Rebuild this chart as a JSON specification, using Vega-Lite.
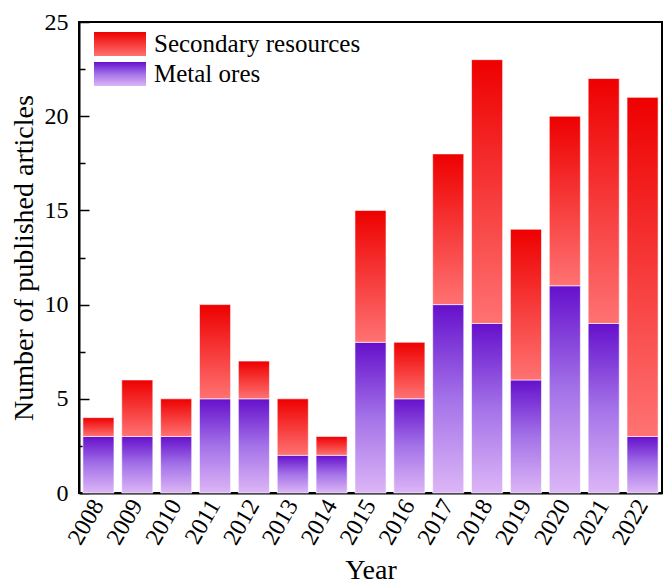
{
  "$schema": "https://vega.github.io/schema/vega-lite/v6.json",
  "width": 583,
  "height": 471,
  "autosize": "none",
  "padding": {"left": 79, "top": 22, "right": 1, "bottom": 92},
  "background": "white",
  "config": {
    "view": {"stroke": "black", "strokeWidth": 2},
    "font": "Liberation Serif",
    "axis": {"labelFont": "Liberation Serif", "titleFont": "Liberation Serif"},
    "legend": {"labelFont": "Liberation Serif"}
  },
  "data": {
    "values": [
      {"year": "2008", "series": "Metal ores", "count": 3},
      {"year": "2008", "series": "Secondary resources", "count": 1},
      {"year": "2009", "series": "Metal ores", "count": 3},
      {"year": "2009", "series": "Secondary resources", "count": 3},
      {"year": "2010", "series": "Metal ores", "count": 3},
      {"year": "2010", "series": "Secondary resources", "count": 2},
      {"year": "2011", "series": "Metal ores", "count": 5},
      {"year": "2011", "series": "Secondary resources", "count": 5},
      {"year": "2012", "series": "Metal ores", "count": 5},
      {"year": "2012", "series": "Secondary resources", "count": 2},
      {"year": "2013", "series": "Metal ores", "count": 2},
      {"year": "2013", "series": "Secondary resources", "count": 3},
      {"year": "2014", "series": "Metal ores", "count": 2},
      {"year": "2014", "series": "Secondary resources", "count": 1},
      {"year": "2015", "series": "Metal ores", "count": 8},
      {"year": "2015", "series": "Secondary resources", "count": 7},
      {"year": "2016", "series": "Metal ores", "count": 5},
      {"year": "2016", "series": "Secondary resources", "count": 3},
      {"year": "2017", "series": "Metal ores", "count": 10},
      {"year": "2017", "series": "Secondary resources", "count": 8},
      {"year": "2018", "series": "Metal ores", "count": 9},
      {"year": "2018", "series": "Secondary resources", "count": 14},
      {"year": "2019", "series": "Metal ores", "count": 6},
      {"year": "2019", "series": "Secondary resources", "count": 8},
      {"year": "2020", "series": "Metal ores", "count": 11},
      {"year": "2020", "series": "Secondary resources", "count": 9},
      {"year": "2021", "series": "Metal ores", "count": 9},
      {"year": "2021", "series": "Secondary resources", "count": 13},
      {"year": "2022", "series": "Metal ores", "count": 3},
      {"year": "2022", "series": "Secondary resources", "count": 18}
    ]
  },
  "mark": {"type": "bar", "stroke": "#ffffff", "strokeOpacity": 0.6, "strokeWidth": 1},
  "encoding": {
    "x": {
      "field": "year",
      "type": "ordinal",
      "scale": {"paddingInner": 0.2, "paddingOuter": 0.1},
      "axis": {
        "labelAngle": -60,
        "ticks": false,
        "domainColor": "black",
        "domainWidth": 2,
        "labelFont": "Liberation Serif",
        "labelFontSize": 24,
        "labelColor": "black",
        "labelPadding": 8,
        "title": "Year",
        "titleFont": "Liberation Serif",
        "titleFontSize": 28,
        "titleFontWeight": "normal",
        "titleColor": "black",
        "titlePadding": 8
      }
    },
    "y": {
      "field": "count",
      "type": "quantitative",
      "stack": "zero",
      "scale": {"domain": [0, 25]},
      "axis": {
        "values": [0, 2.5, 5, 7.5, 10, 12.5, 15, 17.5, 20, 22.5, 25],
        "labelExpr": "datum.value % 5 === 0 ? datum.label : ''",
        "grid": false,
        "tickSize": {"condition": {"test": "datum.value % 5 !== 0", "value": -6}, "value": -10},
        "tickWidth": 1.5,
        "tickColor": "black",
        "domainColor": "black",
        "domainWidth": 2,
        "labelFont": "Liberation Serif",
        "labelFontSize": 24,
        "labelColor": "black",
        "labelPadding": 21,
        "title": "Number of published articles",
        "titleFont": "Liberation Serif",
        "titleFontSize": 28,
        "titleFontWeight": "normal",
        "titleColor": "black",
        "titlePadding": 6
      }
    },
    "order": {"field": "series", "sort": "ascending"},
    "color": {
      "field": "series",
      "type": "nominal",
      "scale": {
        "domain": ["Secondary resources", "Metal ores"],
        "range": [
          {"expr": "{gradient: 'linear', x1: 0, y1: 0, x2: 0, y2: 1, stops: [{offset: 0, color: '#ee0000'}, {offset: 1, color: '#ff7272'}]}"},
          {"expr": "{gradient: 'linear', x1: 0, y1: 0, x2: 0, y2: 1, stops: [{offset: 0, color: '#6510cc'}, {offset: 0.5, color: '#a472e8'}, {offset: 1, color: '#dcb6f6'}]}"}
        ]
      },
      "legend": {
        "title": null,
        "orient": "none",
        "legendX": 15,
        "legendY": 9,
        "padding": 0,
        "rowPadding": 4,
        "labelFont": "Liberation Serif",
        "labelFontSize": 25,
        "labelColor": "black",
        "labelOffset": 34,
        "labelLimit": 0,
        "symbolType": "M-1,-0.923H3V0.923H-1Z",
        "symbolSize": 676,
        "symbolStrokeWidth": 0,
        "symbolOpacity": 1
      }
    }
  }
}
